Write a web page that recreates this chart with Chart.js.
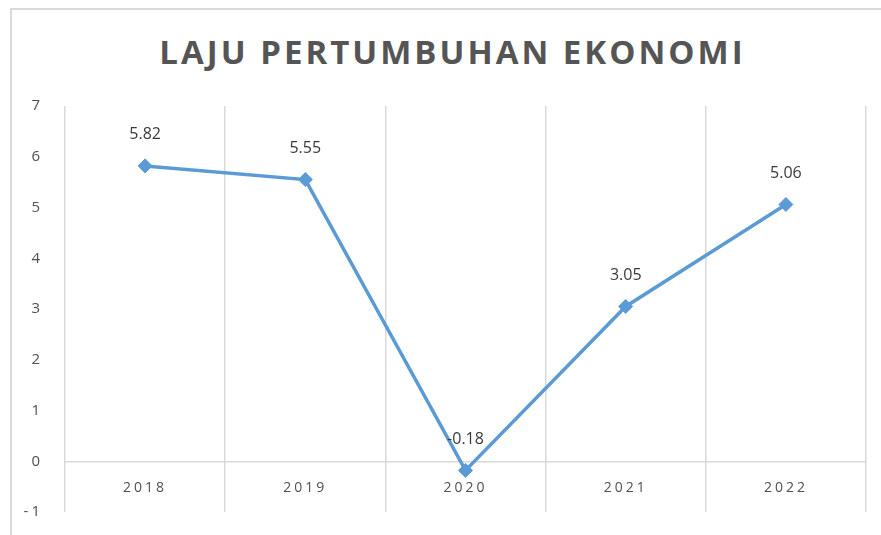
<!DOCTYPE html>
<html>
<head>
<meta charset="utf-8">
<script src="https://cdn.jsdelivr.net/npm/chart.js@4/dist/chart.umd.min.js"></script>
<style>
  html, body { margin: 0; padding: 0; background: #ffffff; overflow: hidden; }
  #wrap { position: relative; width: 881px; height: 535px; }
  #frame { position: absolute; left: 10px; top: 8px; width: 900px; height: 600px;
           border-left: 2px solid #dadada; border-top: 2px solid #dadada; }
  #title { position: absolute; left: 24px; right: 0; top: 30px; text-align: center;
           font-family: "Open Sans", sans-serif; font-weight: 700; font-size: 33px;
           letter-spacing: 3px; color: #555555; line-height: 44px; }
  canvas { position: absolute; left: 0; top: 0; }
</style>
</head>
<body>
<div id="wrap">
  <div id="frame"></div>
  <div id="title">LAJU PERTUMBUHAN EKONOMI</div>
  <canvas id="c" width="881" height="535"></canvas>
</div>
<script>
const categories = ["2018", "2019", "2020", "2021", "2022"];
const growthValues = [5.82, 5.55, -0.18, 3.05, 5.06];
const yMin = -1;
const yMax = 7;

const dataLabels = {
  id: 'dataLabels',
  afterDatasetsDraw(chart) {
    const ctx = chart.ctx;
    const meta = chart.getDatasetMeta(0);
    ctx.save();
    ctx.letterSpacing = '0px';
    ctx.font = '16px "Open Sans", sans-serif';
    ctx.fillStyle = '#3a3a3a';
    ctx.textAlign = 'center';
    ctx.textBaseline = 'middle';
    meta.data.forEach((pt, i) => {
      ctx.fillText(growthValues[i].toFixed(2), pt.x, pt.y - 31);
    });
    ctx.restore();
  }
};

const spacing = {
  id: 'spacing',
  beforeDraw(chart) { chart.ctx.save(); chart.ctx.letterSpacing = '3px'; },
  beforeDatasetsDraw(chart) { chart.ctx.restore(); }
};

new Chart(document.getElementById('c'), {
  type: 'line',
  data: {
    labels: categories,
    datasets: [{
      data: growthValues,
      borderColor: '#5B9BD5',
      backgroundColor: '#5B9BD5',
      borderWidth: 3.5,
      pointStyle: 'rectRot',
      pointRadius: 7,
      pointHoverRadius: 7,
      pointBorderWidth: 1,
      tension: 0,
      fill: false
    }]
  },
  options: {
    responsive: false,
    animation: false,
    devicePixelRatio: 1,
    layout: { padding: { top: 106, left: 10, right: 15, bottom: 23 } },
    plugins: { legend: { display: false }, title: { display: false }, tooltip: { enabled: false } },
    scales: {
      x: {
        position: { y: 0 },
        offset: true,
        grid: { display: true, offset: true, color: '#d9d9d9', lineWidth: 1.5, drawTicks: false },
        border: { display: true, color: '#d9d9d9', width: 1.5 },
        ticks: { color: '#505050', font: { family: 'Open Sans', size: 14 }, padding: 18, maxRotation: 0 }
      },
      y: {
        min: yMin,
        max: yMax,
        afterFit(scale) { scale.width = 55; },
        grid: { display: true, drawOnChartArea: false, drawTicks: true, tickLength: 14, tickColor: 'rgba(0,0,0,0)' },
        border: { display: false },
        ticks: { stepSize: 1, color: '#505050', font: { family: 'Open Sans', size: 15 }, padding: 8 }
      }
    }
  },
  plugins: [spacing, dataLabels]
});
</script>
</body>
</html>
